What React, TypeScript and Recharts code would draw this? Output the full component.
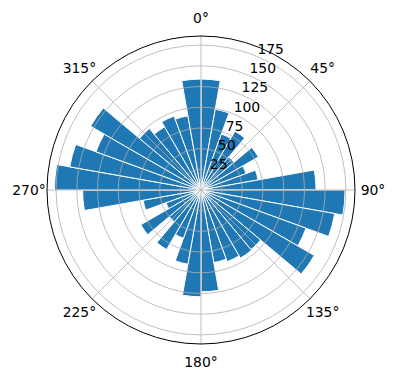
import { RadialBarChart, RadialBar, PolarAngleAxis, PolarRadiusAxis, PolarGrid } from 'recharts'

// direction bins, 10 degrees each, clockwise from north
const directions = [
  0, 10, 20, 30, 40, 50, 60, 70, 80, 90, 100, 110, 120, 130, 140, 150, 160, 170,
  180, 190, 200, 210, 220, 230, 240, 250, 260, 270, 280, 290, 300, 310, 320, 330, 340, 350,
]
const counts = [
  134, 99, 72, 82, 52, 80, 58, 70, 139, 174, 164, 135, 158, 94, 95, 92, 89, 123,
  129, 91, 62, 83, 50, 84, 45, 71, 143, 177, 161, 135, 154, 97, 88, 95, 91, 134,
]
const radiusTicks = [25, 50, 75, 100, 125, 150, 175]
// 360 stands in for 0 so it falls inside the shifted domain
const angleTicks = [45, 90, 135, 180, 225, 270, 315, 360]

const data = directions.map((d, i) => ({ dir: d, binEnd: d + 10, count: counts[i] }))

const font = 'DejaVu Sans, sans-serif'

const AngleTick = (props: any) => {
  const { x, y, payload } = props
  return (
    <text x={x} y={y} textAnchor="middle" dominantBaseline="central" fontFamily={font} fontSize={13.9} fill="#000">
      {payload.value % 360}°
    </text>
  )
}

const RadiusTick = (props: any) => {
  const { x, y, payload } = props
  return (
    <text x={x + 1} y={y - 2} textAnchor="start" fontFamily={font} fontSize={13.9} fill="#000">
      {payload.value}
    </text>
  )
}

const App = () => {
  // category bands come out one bin early, so the whole chart is turned 10deg
  // clockwise and the degree axis domain is shifted back to match
  return (
    <div style={{ width: 388, height: 372 }}>
      <RadialBarChart
        width={388}
        height={372}
        data={data}
        layout="centric"
        cx={193}
        cy={182}
        innerRadius={0}
        outerRadius={154}
        startAngle={80}
        endAngle={-280}
        barCategoryGap={0}
        barGap={0}
        margin={{ top: 0, right: 0, bottom: 0, left: 0 }}
      >
        <PolarAngleAxis dataKey="dir" type="category" tick={false} axisLine={false} tickLine={false} />
        <PolarAngleAxis
          angleAxisId="deg"
          dataKey="binEnd"
          type="number"
          domain={[10, 370]}
          allowDataOverflow
          ticks={angleTicks}
          axisLineType="circle"
          axisLine={{ stroke: '#000', strokeWidth: 1 }}
          tickLine={false}
          tickSize={18}
          tick={<AngleTick />}
        />
        <PolarRadiusAxis
          type="number"
          domain={[0, 186]}
          allowDataOverflow
          ticks={radiusTicks}
          angle={67.5}
          axisLine={false}
          tickLine={false}
          tick={<RadiusTick />}
        />
        <RadialBar dataKey="count" fill="#1f77b4" stroke="#fff" strokeWidth={1} isAnimationActive={false} />
        <PolarGrid gridType="circle" angleAxisId="deg" stroke="#b0b0b0" strokeWidth={0.8} zIndex={400} />
      </RadialBarChart>
    </div>
  )
}

export default App
